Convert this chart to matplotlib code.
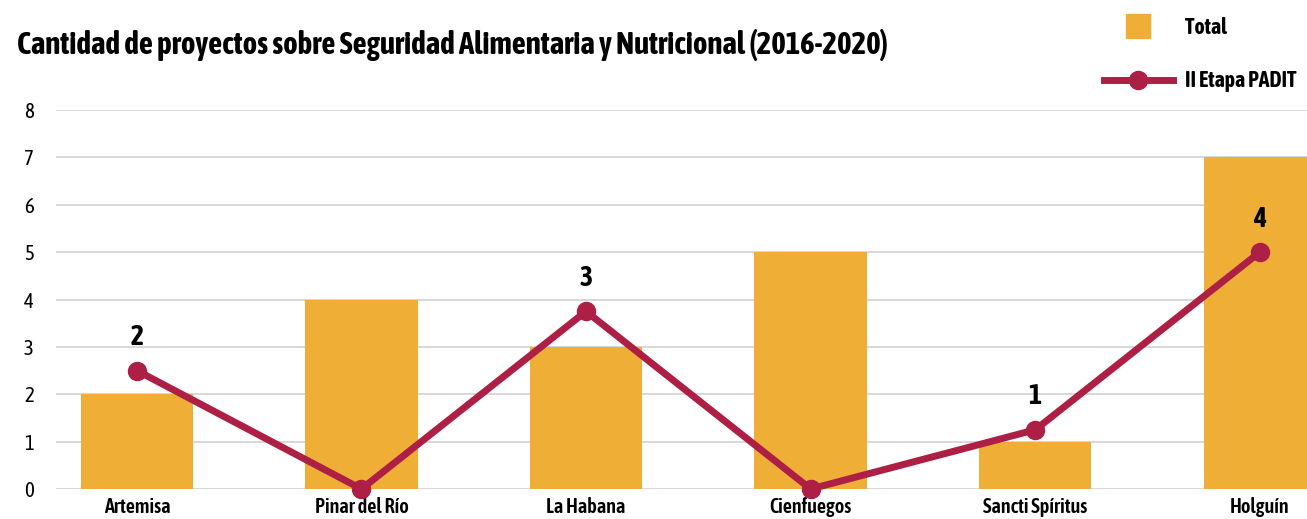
import matplotlib
matplotlib.use("Agg")
import matplotlib.pyplot as plt
from matplotlib.lines import Line2D
from matplotlib import font_manager

def wnum(w):
    if isinstance(w, int):
        return w
    return {'bold': 700, 'semibold': 600, 'demibold': 600, 'heavy': 800, 'black': 900,
            'extra bold': 800, 'medium': 500}.get(str(w).lower(), 400)

fams = {}
for f in font_manager.fontManager.ttflist:
    n = f.name
    if 'condensed' in n.lower() or 'narrow' in n.lower():
        fams.setdefault(n, []).append(wnum(f.weight))
with_bold = sorted(n for n, ws in fams.items() if max(ws) >= 600)
if with_bold:
    family = with_bold[0]
elif fams:
    family = sorted(fams)[0]
else:
    family = 'Roboto'
plt.rcParams['font.family'] = [family, 'DejaVu Sans']

categories = ["Artemisa", "Pinar del Río", "La Habana", "Cienfuegos", "Sancti Spíritus", "Holguín"]
total = [2, 4, 3, 5, 1, 7]
padit = [2, 0, 3, 0, 1, 4]
yticks = [0, 1, 2, 3, 4, 5, 6, 7, 8]

bar_color = "#EFAF37"
line_color = "#AE1F45"

W, H = 1307, 519
fig = plt.figure(figsize=(W / 100, H / 100), dpi=100)
left, right, top, bottom = 56, 1307, 110, 489
ax = fig.add_axes([left / W, (H - bottom) / H, (right - left) / W, (bottom - top) / H])

x = list(range(len(categories)))
ax.bar(x, total, width=0.5, color=bar_color, zorder=2)
ax.set_xlim(-0.36, 5.21)
ax.set_ylim(0, 8)
ax.set_yticks(yticks)
ax.grid(axis='y', color='#d4d4d4', linewidth=1.3, zorder=0)
for s in ax.spines.values():
    s.set_visible(False)
ax.tick_params(axis='y', length=0, pad=16, labelsize=15)
ax.tick_params(axis='x', length=0, pad=6, labelsize=14)
ax.set_xticks(x)
ax.set_xticklabels(categories, fontweight='semibold')

ax2 = ax.twinx()
ax2.set_ylim(0, 6.4)
ax2.set_axis_off()
ax2.plot(x, padit, color=line_color, linewidth=5, marker='o', markersize=13,
         zorder=3, clip_on=False, solid_capstyle='round')
for xi, v in zip(x, padit):
    if v:
        ax2.annotate(str(v), (xi, v), xytext=(0, 14), textcoords='offset points',
                     ha='center', va='bottom', fontsize=20, fontweight='bold')

title = fig.text(17 / W, 1 - 45 / H,
                 "Cantidad de proyectos sobre Seguridad Alimentaria y Nutricional (2016-2020)",
                 fontsize=21, fontweight='bold', va='center', ha='left')

handles = [Line2D([], [], color=bar_color, marker='s', linestyle='none', markersize=17),
           Line2D([], [], color=line_color, marker='o', linewidth=5, markersize=13)]
leg = fig.legend(handles, ["Total", "II Etapa PADIT"], loc='upper left',
                 bbox_to_anchor=(1085 / W, 1 + 2 / H), frameon=False, labelspacing=1.5,
                 handlelength=3.3, handletextpad=0.6, borderpad=0.4,
                 prop={'weight': 'bold', 'size': 15})

fig.canvas.draw()
r = fig.canvas.get_renderer()
def fit(t, target, maxsize):
    w = t.get_window_extent(r).width
    t.set_fontsize(min(maxsize, t.get_fontsize() * target / w))
fit(title, 869, 24)
sz = 15
for t in leg.get_texts():
    if t.get_text() == "II Etapa PADIT":
        fit(t, 111, 17)
        sz = t.get_fontsize()
for t in leg.get_texts():
    t.set_fontsize(sz)
lab = [t for t in ax.get_xticklabels() if t.get_text() == "Pinar del Río"][0]
w = lab.get_window_extent(r).width
ax.tick_params(axis='x', labelsize=min(16, 14 * 94 / w))

fig.savefig("out.png", dpi=100)
